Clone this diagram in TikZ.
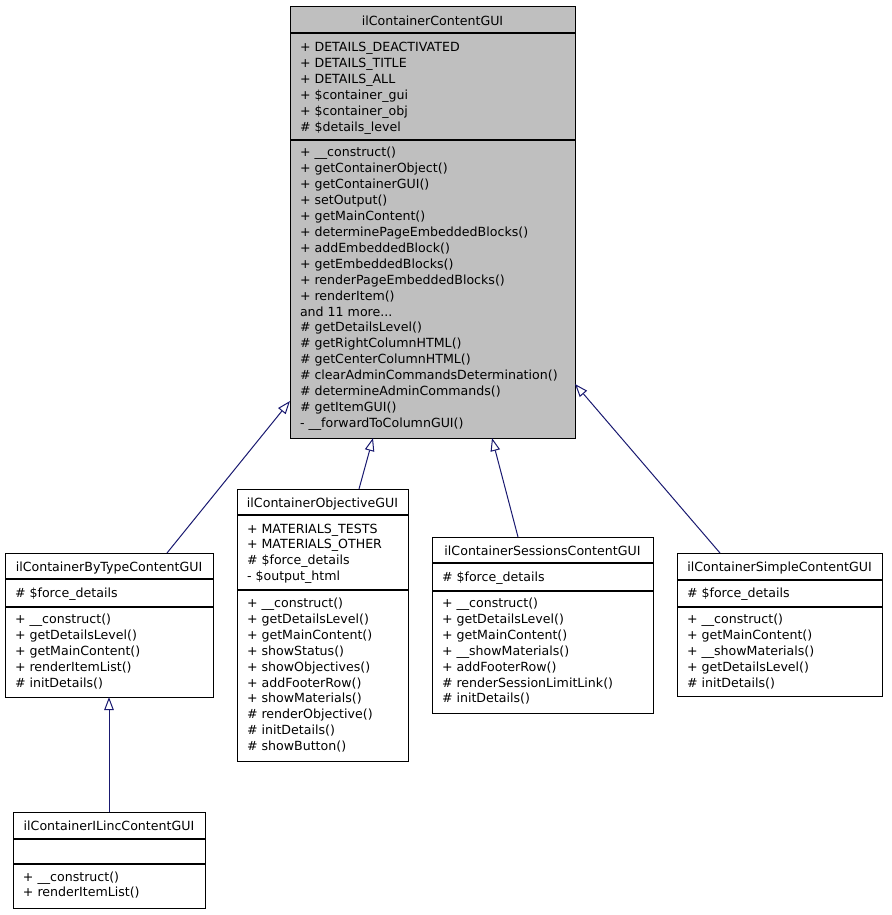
\documentclass[tikz,border=0pt]{standalone}
\usepackage{fontspec}
\setmainfont{DejaVu Sans}
\usetikzlibrary{arrows.meta,fit}
\definecolor{edgeblue}{HTML}{191970}
\definecolor{boxgrey}{HTML}{BFBFBF}
\newcommand\threedots{...}
\tikzset{
  umlbox/.style={draw=black, line width=1pt, inner sep=0pt, outer sep=0pt},
  sepline/.style={draw=black, line width=1.2pt},
  txt/.style={inner sep=0pt, outer sep=0pt, anchor=base west, font=\fontsize{12.6}{16}\selectfont},
  ttl/.style={inner sep=0pt, outer sep=0pt, anchor=base, font=\fontsize{12.6}{16}\selectfont},
  inherit/.style={draw=edgeblue, line width=1pt, -{Triangle[open, length=13pt, width=9.5pt, fill=white]}},
}
% name, left, top, right, bottom, sep1, sep2, title, fill
\newcommand\UMLClass[9]{%
  \node[umlbox, fill=#9, fit={(#2,#3) (#4,#5)}] (#1) {};
  \draw[sepline] (#2,#6) -- (#4,#6);
  \draw[sepline] (#2,#7) -- (#4,#7);
  \node[ttl] (#1-title) at ({(#2+#4)/2}, #3+18.5) {#8};
}
% name prefix, x, first baseline, list
\newcommand\UMLLines[4]{%
  \foreach \t [count=\i from 0] in {#4} {
    \node[txt] (#1-\i) at (#2, {#3+15.9*\i}) {\t};
  }
}
\begin{document}
\begin{tikzpicture}[x=1pt,y=-1pt]
\useasboundingbox (0,0) rectangle (891,915);

% main class
\UMLClass{main}{290}{7}{575}{438}{33}{140}{ilContainerContentGUI}{boxgrey}
\UMLLines{main-a}{300}{51.7}{+ DETAILS\_DEACTIVATED, + DETAILS\_TITLE, + DETAILS\_ALL, + \$container\_gui, + \$container\_obj, \# \$details\_level}
\UMLLines{main-m}{300}{157}{+ \_\_construct(), + getContainerObject(), + getContainerGUI(), + setOutput(), + getMainContent(), + determinePageEmbeddedBlocks(), + addEmbeddedBlock(), + getEmbeddedBlocks(), + renderPageEmbeddedBlocks(), + renderItem(), and 11 more\threedots, \# getDetailsLevel(), \# getRightColumnHTML(), \# getCenterColumnHTML(), \# clearAdminCommandsDetermination(), \# determineAdminCommands(), \# getItemGUI(), - \_\_forwardToColumnGUI()}

% by type
\UMLClass{bytype}{5}{553}{213}{697}{579}{607}{ilContainerByTypeContentGUI}{white}
\UMLLines{bytype-a}{15}{597}{\# \$force\_details}
\UMLLines{bytype-m}{15}{623.5}{+ \_\_construct(), + getDetailsLevel(), + getMainContent(), + renderItemList(), \# initDetails()}

% objective
\UMLClass{obj}{237}{489}{408}{761}{515}{590}{ilContainerObjectiveGUI}{white}
\UMLLines{obj-a}{247}{533}{+ MATERIALS\_TESTS, + MATERIALS\_OTHER, \# \$force\_details, - \$output\_html}
\UMLLines{obj-m}{247}{607.5}{+ \_\_construct(), + getDetailsLevel(), + getMainContent(), + showStatus(), + showObjectives(), + addFooterRow(), + showMaterials(), \# renderObjective(), \# initDetails(), \# showButton()}

% sessions
\UMLClass{sess}{432}{537}{653}{713}{563}{591}{ilContainerSessionsContentGUI}{white}
\UMLLines{sess-a}{442}{581}{\# \$force\_details}
\UMLLines{sess-m}{442}{607.5}{+ \_\_construct(), + getDetailsLevel(), + getMainContent(), + \_\_showMaterials(), + addFooterRow(), \# renderSessionLimitLink(), \# initDetails()}

% simple
\UMLClass{simple}{677}{553}{882}{696}{580}{607}{ilContainerSimpleContentGUI}{white}
\UMLLines{simple-a}{687}{597}{\# \$force\_details}
\UMLLines{simple-m}{687}{623.5}{+ \_\_construct(), + getMainContent(), + \_\_showMaterials(), + getDetailsLevel(), \# initDetails()}

% ilinc
\UMLClass{ilinc}{13}{812}{205}{908}{839}{864}{ilContainerILincContentGUI}{white}
\UMLLines{ilinc-m}{23}{881}{+ \_\_construct(), + renderItemList()}

% inheritance connectors
\draw[inherit] ([xshift=162pt]bytype.north west) -- (main.west |- 0,401);
\draw[inherit] ([xshift=122pt]obj.north west) -- ([xshift=83pt]main.south west);
\draw[inherit] ([xshift=86pt]sess.north west) -- ([xshift=202pt]main.south west);
\draw[inherit] ([xshift=43pt]simple.north west) -- (main.east |- 0,384);
\draw[inherit] (ilinc.north) -- (ilinc.north |- bytype.south);
\end{tikzpicture}
\end{document}
